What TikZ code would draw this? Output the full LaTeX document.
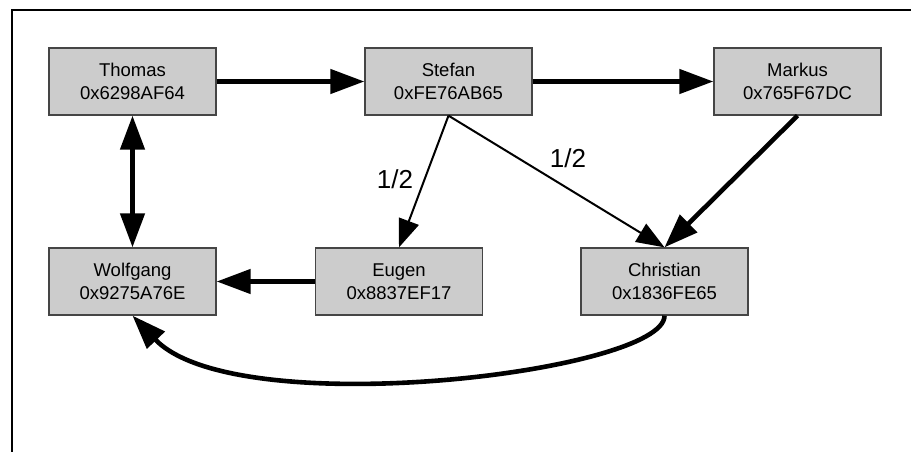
\documentclass[tikz,border=0pt]{standalone}
\usepackage{fontspec}
\setmainfont{Liberation Sans}
\usetikzlibrary{arrows.meta}
\definecolor{boxfill}{HTML}{CCCCCC}
\definecolor{boxline}{HTML}{454545}
\tikzset{
  box/.style={draw=boxline, line width=1.3pt, fill=boxfill, minimum width=167pt, minimum height=67pt,
    inner sep=0pt, align=center, font=\fontsize{18.5pt}{23pt}\selectfont},
  bighead/.tip={Triangle[length=34pt,width=24pt]},
  smallhead/.tip={Triangle[length=28pt,width=21pt]},
  heavy/.style={line width=4.6pt, -bighead},
  light/.style={line width=2pt, -smallhead},
  lbl/.style={inner sep=0pt, font=\fontsize{26pt}{30pt}\selectfont}
}
\begin{document}
\begin{tikzpicture}[x=1pt,y=-1pt]
\useasboundingbox (0,0) rectangle (911,452);
\draw[line width=2pt] (12,452) -- (12,10) -- (911,10);
\node[box] (thomas) at (132.5,81.5) {Thomas\\0x6298AF64};
\node[box] (stefan) at (448.5,81.5) {Stefan\\0xFE76AB65};
\node[box] (markus) at (797.5,81.5) {Markus\\0x765F67DC};
\node[box] (wolfgang) at (132.5,281.5) {Wolfgang\\0x9275A76E};
\node[box] (eugen) at (399,281.5) {Eugen\\0x8837EF17};
\node[box] (christian) at (664.5,281.5) {Christian\\0x1836FE65};
\draw[heavy] (thomas) -- (stefan);
\draw[heavy] (stefan) -- (markus);
\draw[heavy] (markus.south) -- (christian.north);
\draw[heavy, bighead-bighead] (thomas.south) -- (wolfgang.north);
\draw[heavy] (eugen.west) -- (wolfgang.east);
\draw[light] (stefan.south) -- (eugen.north);
\draw[light] (stefan.south) -- (christian.north);
\draw[heavy] (christian.south) .. controls (665,372) and (236,424) .. (wolfgang.south);
\node[lbl] (l1) at (395,179) {1/2};
\node[lbl] (l2) at (568,158) {1/2};
\end{tikzpicture}
\end{document}
